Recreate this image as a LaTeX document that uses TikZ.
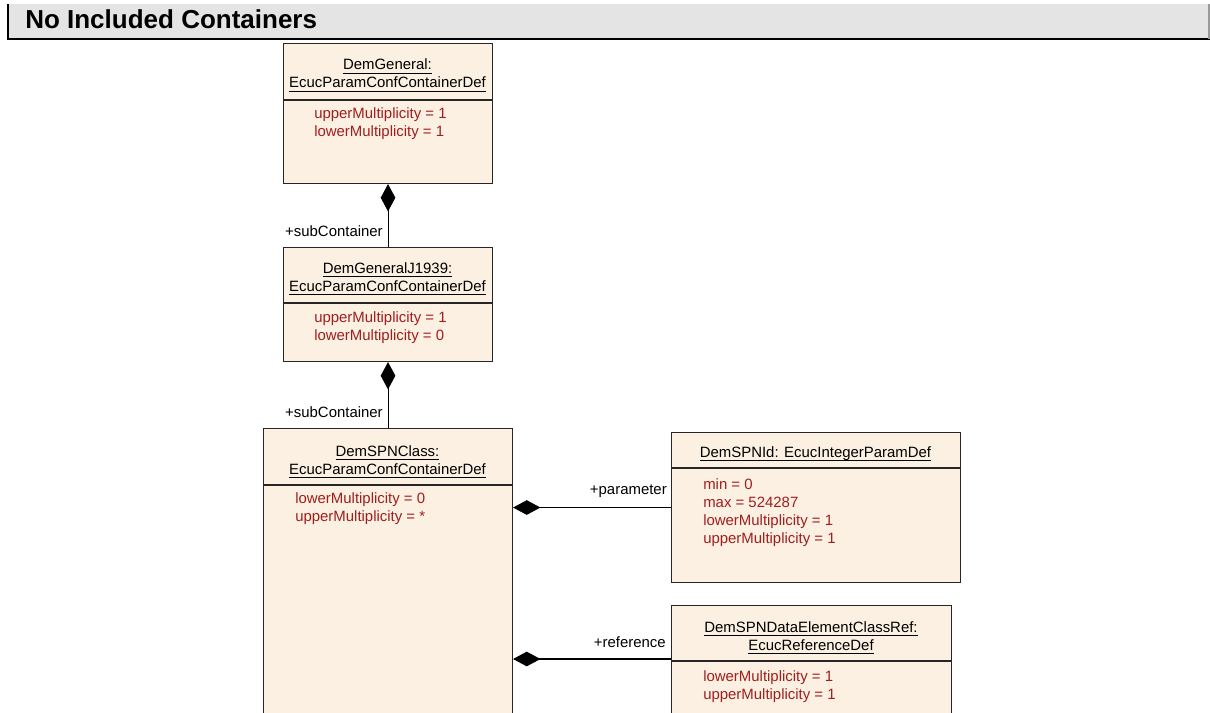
\documentclass[tikz,border=0pt]{standalone}
\usepackage{fontspec}
\setmainfont{Liberation Sans}
\usetikzlibrary{arrows.meta}
\definecolor{boxfill}{RGB}{251,240,226}
\definecolor{attrred}{RGB}{160,30,30}
\definecolor{headgray}{RGB}{228,228,228}
\newcommand{\umlname}[1]{\setbox0\hbox{#1}\rlap{\rule[-2.9pt]{\wd0}{0.7pt}}\box0}
\tikzset{
  umlbox/.style={draw=black!85, line width=0.8pt, fill=boxfill, anchor=north west, inner sep=0pt},
  sepline/.style={draw=black!85, line width=0.8pt},
  titletext/.style={font=\fontsize{11.2}{13}\selectfont, anchor=base, inner sep=0pt},
  attrtext/.style={font=\fontsize{11.2}{13}\selectfont, text=attrred, anchor=base west, inner sep=0pt},
  roletext/.style={font=\fontsize{11.2}{13}\selectfont, anchor=base east, inner sep=0pt},
  compos/.style={line width=0.8pt, {Diamond[length=20.5pt, width=11pt]}-},
}
\begin{document}
\begin{tikzpicture}[x=0.75pt, y=-0.75pt]
\useasboundingbox (0,0) rectangle (1210,713);
% header
\fill[headgray] (8,4) rectangle (1210,39);
\draw[line width=1.2pt] (8,4) -- (8,39) -- (1210,39);
\draw[black!40, line width=0.8pt] (1209,4) -- (1209,39);
\node[anchor=base west, inner sep=0pt, font=\fontsize{19.5}{22}\selectfont\bfseries] (head) at (25,29) {No Included Containers};

% Box 1
\node[umlbox, minimum width=209*0.75pt, minimum height=140*0.75pt] (b1) at (283,43) {};
\draw[sepline] (283,100) -- (492,100);
\node[titletext] (b1t1) at (387.5,70) {\umlname{DemGeneral:}};
\node[titletext] (b1t2) at (387.5,88) {\umlname{EcucParamConfContainerDef}};
\node[attrtext] (b1a1) at (314,119) {upperMultiplicity = 1};
\node[attrtext] (b1a2) at (314,136.5) {lowerMultiplicity = 1};

% Box 2
\node[umlbox, minimum width=209*0.75pt, minimum height=114*0.75pt] (b2) at (283,247) {};
\draw[sepline] (283,303) -- (492,303);
\node[titletext] (b2t1) at (387.5,273) {\umlname{DemGeneralJ1939:}};
\node[titletext] (b2t2) at (387.5,291.5) {\umlname{EcucParamConfContainerDef}};
\node[attrtext] (b2a1) at (314,322.5) {upperMultiplicity = 1};
\node[attrtext] (b2a2) at (314,340) {lowerMultiplicity = 0};

% Box 3
\node[umlbox, minimum width=249*0.75pt, minimum height=300*0.75pt] (b3) at (263,428) {};
\draw[sepline] (263,485) -- (512,485);
\node[titletext] (b3t1) at (387.5,456) {\umlname{DemSPNClass:}};
\node[titletext] (b3t2) at (387.5,474) {\umlname{EcucParamConfContainerDef}};
\node[attrtext] (b3a1) at (295,503.5) {lowerMultiplicity = 0};
\node[attrtext] (b3a2) at (295,521.5) {upperMultiplicity = *};

% Box 4
\node[umlbox, minimum width=289*0.75pt, minimum height=150*0.75pt] (b4) at (671,432) {};
\draw[sepline] (671,468) -- (960,468);
\node[titletext] (b4t1) at (815.5,457) {\umlname{DemSPNId: EcucIntegerParamDef}};
\node[attrtext] (b4a1) at (703,489) {min = 0};
\node[attrtext] (b4a2) at (703,507) {max = 524287};
\node[attrtext] (b4a3) at (703,525) {lowerMultiplicity = 1};
\node[attrtext] (b4a4) at (703,543) {upperMultiplicity = 1};

% Box 5
\node[umlbox, minimum width=280*0.75pt, minimum height=120*0.75pt] (b5) at (671,605) {};
\draw[sepline] (671,661) -- (951,661);
\node[titletext] (b5t1) at (811,632) {\umlname{DemSPNDataElementClassRef:}};
\node[titletext] (b5t2) at (811,650) {\umlname{EcucReferenceDef}};
\node[attrtext] (b5a1) at (703,681) {lowerMultiplicity = 1};
\node[attrtext] (b5a2) at (703,699) {upperMultiplicity = 1};
\coordinate (b5in) at (671,659);

% connectors
\draw[compos] (b1.south) -- (b2.north);
\draw[compos] (b2.south) -- (b3.north);
\draw[compos] (b3.east |- b4.west) -- (b4.west);
\draw[compos] (b3.east |- b5in) -- (b5in);

% role labels
\node[roletext] (r1) at (383,236) {+subContainer};
\node[roletext] (r2) at (383,417) {+subContainer};
\node[roletext] (r3) at (667,494) {+parameter};
\node[roletext] (r4) at (666,647) {+reference};
\end{tikzpicture}
\end{document}
